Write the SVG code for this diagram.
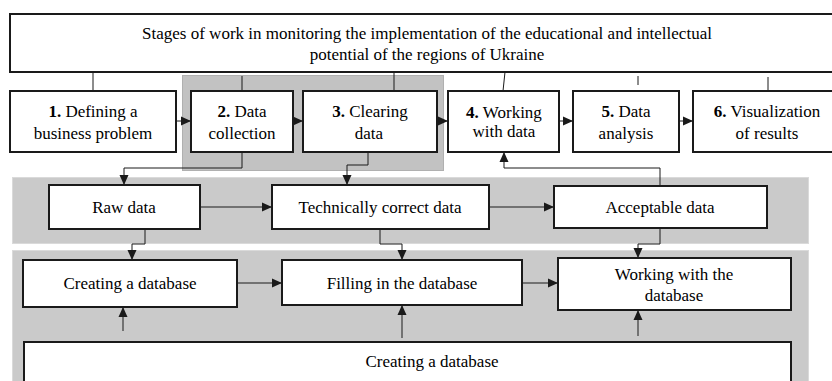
<svg xmlns="http://www.w3.org/2000/svg" width="832" height="381" viewBox="0 0 832 381">
<defs>
<marker id="ah" markerUnits="userSpaceOnUse" markerWidth="10" markerHeight="10" viewBox="0 0 10 10" refX="10" refY="5" orient="auto">
<path d="M0,0.5 L10,5 L0,9.5 Z" fill="#1a1a1a"/>
</marker>
</defs>
<rect width="832" height="381" fill="#fff"/>
<g id="bands" stroke-width="1">
<rect x="12.5" y="177.5" width="796" height="66" fill="#cacaca" stroke="#dadada"/>
<rect x="12.5" y="250.5" width="796" height="140" fill="#cacaca" stroke="#dadada"/>
<rect x="182.5" y="75.5" width="261" height="95" fill="#c2c2c2" stroke="#b0b0b0"/>
</g>
<g id="connectors" fill="none" stroke="#1a1a1a" stroke-width="1">
<line x1="93" y1="72" x2="93" y2="91"/>
<line x1="242" y1="76" x2="242" y2="91"/>
<line x1="394" y1="72" x2="394" y2="91"/>
<line x1="505" y1="72" x2="503" y2="91"/>
<line x1="638" y1="76" x2="638" y2="85"/>
<line x1="768" y1="77" x2="768" y2="91"/>
<g marker-end="url(#ah)">
<line x1="176" y1="121" x2="191" y2="121"/>
<line x1="293" y1="121" x2="303" y2="121"/>
<line x1="437" y1="121" x2="448" y2="121"/>
<line x1="559" y1="121" x2="573" y2="121"/>
<line x1="679" y1="121" x2="693" y2="121"/>
<path d="M242,152 V168 H124 V185"/>
<path d="M368,152 V165 H347 V185"/>
<path d="M660,186 V168 H504 V152"/>
<line x1="200" y1="207" x2="272" y2="207"/>
<line x1="489" y1="207" x2="554" y2="207"/>
<path d="M145,229 V244 H132 V260"/>
<path d="M380,229 V244 H402 V260"/>
<path d="M660,228 V244 H638 V258"/>
<line x1="237" y1="283" x2="282" y2="283"/>
<line x1="522" y1="283" x2="558" y2="283"/>
<line x1="123" y1="331" x2="123" y2="307"/>
<line x1="402" y1="338" x2="402" y2="305"/>
<line x1="638" y1="336" x2="638" y2="310"/>
</g>
</g>
<g id="title">
<rect x="10" y="14" width="840" height="58" fill="#fff" stroke="#1a1a1a" stroke-width="2"/>
<text x="427" y="39" font-family="Liberation Serif" font-size="17" text-anchor="middle">Stages of work in monitoring the implementation of the educational and intellectual</text>
<text x="427" y="60" font-family="Liberation Serif" font-size="17" text-anchor="middle">potential of the regions of Ukraine</text>
</g>
<g id="n1">
<rect x="10" y="91" width="166" height="61" fill="#fff" stroke="#1a1a1a" stroke-width="2"/>
<text x="93" y="117" font-family="Liberation Serif" font-size="17" text-anchor="middle"><tspan font-weight="bold">1.</tspan> Defining a</text>
<text x="93" y="139" font-family="Liberation Serif" font-size="17" text-anchor="middle">business problem</text>
</g>
<g id="n2">
<rect x="191" y="91" width="102" height="61" fill="#fff" stroke="#1a1a1a" stroke-width="2"/>
<text x="242" y="117" font-family="Liberation Serif" font-size="17" text-anchor="middle"><tspan font-weight="bold">2.</tspan> Data</text>
<text x="242" y="139" font-family="Liberation Serif" font-size="17" text-anchor="middle">collection</text>
</g>
<g id="n3">
<rect x="303" y="91" width="134" height="61" fill="#fff" stroke="#1a1a1a" stroke-width="2"/>
<text x="370" y="117" font-family="Liberation Serif" font-size="17" text-anchor="middle"><tspan font-weight="bold">3.</tspan> Clearing</text>
<text x="369" y="139" font-family="Liberation Serif" font-size="17" text-anchor="middle">data</text>
</g>
<g id="n4">
<rect x="448" y="91" width="111" height="61" fill="#fff" stroke="#1a1a1a" stroke-width="2"/>
<text x="504" y="118" font-family="Liberation Serif" font-size="17" text-anchor="middle"><tspan font-weight="bold">4.</tspan> Working</text>
<text x="504" y="137" font-family="Liberation Serif" font-size="17" text-anchor="middle">with data</text>
</g>
<g id="n5">
<rect x="573" y="91" width="106" height="61" fill="#fff" stroke="#1a1a1a" stroke-width="2"/>
<text x="626" y="117" font-family="Liberation Serif" font-size="17" text-anchor="middle"><tspan font-weight="bold">5.</tspan> Data</text>
<text x="626" y="139" font-family="Liberation Serif" font-size="17" text-anchor="middle">analysis</text>
</g>
<g id="n6">
<rect x="693" y="91" width="150" height="61" fill="#fff" stroke="#1a1a1a" stroke-width="2"/>
<text x="767" y="117" font-family="Liberation Serif" font-size="17" text-anchor="middle"><tspan font-weight="bold">6.</tspan> Visualization</text>
<text x="767" y="139" font-family="Liberation Serif" font-size="17" text-anchor="middle">of results</text>
</g>
<g id="raw">
<rect x="49" y="185" width="151" height="44" fill="#fff" stroke="#1a1a1a" stroke-width="2"/>
<text x="124" y="213" font-family="Liberation Serif" font-size="17" text-anchor="middle">Raw data</text>
</g>
<g id="tech">
<rect x="272" y="185" width="217" height="44" fill="#fff" stroke="#1a1a1a" stroke-width="2"/>
<text x="380" y="213" font-family="Liberation Serif" font-size="17" text-anchor="middle">Technically correct data</text>
</g>
<g id="acc">
<rect x="554" y="186" width="213" height="42" fill="#fff" stroke="#1a1a1a" stroke-width="2"/>
<text x="660" y="213" font-family="Liberation Serif" font-size="17" text-anchor="middle">Acceptable data</text>
</g>
<g id="createdb">
<rect x="23" y="260" width="214" height="47" fill="#fff" stroke="#1a1a1a" stroke-width="2"/>
<text x="130" y="289" font-family="Liberation Serif" font-size="17" text-anchor="middle">Creating a database</text>
</g>
<g id="filldb">
<rect x="282" y="260" width="240" height="45" fill="#fff" stroke="#1a1a1a" stroke-width="2"/>
<text x="402" y="289" font-family="Liberation Serif" font-size="17" text-anchor="middle">Filling in the database</text>
</g>
<g id="workdb">
<rect x="558" y="258" width="233" height="52" fill="#fff" stroke="#1a1a1a" stroke-width="2"/>
<text x="674" y="280" font-family="Liberation Serif" font-size="17" text-anchor="middle">Working with the</text>
<text x="674" y="301" font-family="Liberation Serif" font-size="17" text-anchor="middle">database</text>
</g>
<g id="bottom">
<rect x="24" y="342" width="767" height="60" fill="#fff" stroke="#1a1a1a" stroke-width="2"/>
<text x="432" y="367" font-family="Liberation Serif" font-size="17" text-anchor="middle">Creating a database</text>
</g>
</svg>
